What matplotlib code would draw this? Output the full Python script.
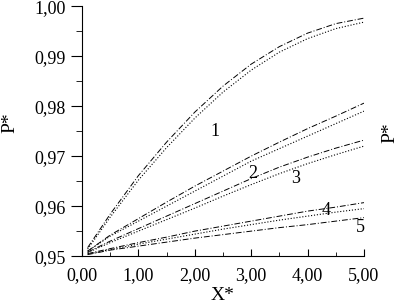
import numpy as np
import matplotlib
matplotlib.use('Agg')
import matplotlib.pyplot as plt
from matplotlib.ticker import FuncFormatter, MultipleLocator

plt.rcParams['font.family'] = ['Liberation Serif', 'DejaVu Serif']

x = [0.1, 0.5, 1.0, 1.5, 2.0, 2.5, 3.0, 3.5, 4.0, 4.5, 5.0]

# solid (calculated) and dotted (approximate) curves, 1..5
c1 = [0.9517, 0.9584, 0.9661, 0.9728, 0.9788, 0.9840, 0.9884, 0.9919, 0.9946, 0.9965, 0.9976]
c1d = [0.9514, 0.9578, 0.9652, 0.9717, 0.9776, 0.9828, 0.9872, 0.9908, 0.9935, 0.9955, 0.9968]
c2 = [0.9510, 0.9542, 0.9575, 0.9608, 0.9640, 0.9670, 0.9700, 0.9728, 0.9755, 0.9780, 0.9806]
c2d = [0.9510, 0.9540, 0.9570, 0.9600, 0.9630, 0.9660, 0.9690, 0.9715, 0.9740, 0.9765, 0.9790]
c3 = [0.9508, 0.9530, 0.9555, 0.9580, 0.9605, 0.9630, 0.9655, 0.9678, 0.9698, 0.9716, 0.9732]
c3d = [0.9507, 0.9527, 0.9550, 0.9573, 0.9596, 0.9620, 0.9643, 0.9665, 0.9685, 0.9703, 0.9720]
c4 = [0.9505, 0.9515, 0.9527, 0.9538, 0.9550, 0.9560, 0.9570, 0.9580, 0.9590, 0.9598, 0.9607]
c4d = [0.9504, 0.9513, 0.9524, 0.9534, 0.9544, 0.9554, 0.9563, 0.9572, 0.9580, 0.9588, 0.9595]
c5 = [0.9503, 0.9512, 0.9520, 0.9528, 0.9536, 0.9543, 0.9550, 0.9557, 0.9563, 0.9570, 0.9577]

labels = ['1', '2', '3', '4', '5']
label_pos = [(2.35, 0.9750), (3.02, 0.9666), (3.79, 0.9656), (4.33, 0.9592), (4.93, 0.9558)]

fig = plt.figure(figsize=(4.0, 3.06), dpi=100)
ax = fig.add_axes([0.205, 0.163, 0.705, 0.817])

for ys in [c1, c2, c3, c4, c5]:
    ax.plot(x, ys, color='black', lw=0.7, ls='-.', dashes=(6, 2, 1, 2))
for ys in [c1d, c2d, c3d, c4d]:
    ax.plot(x, ys, color='black', lw=0.8, ls=':')

for lab, (lx, ly) in zip(labels, label_pos):
    ax.text(lx, ly, lab, fontsize=13, ha='center', va='center')

ax.set_xlim(0, 5)
ax.set_ylim(0.95, 1.0)
ax.spines['top'].set_visible(False)
ax.spines['right'].set_visible(False)

fmt = FuncFormatter(lambda v, p: f"{v:.2f}".replace('.', ','))
ax.xaxis.set_major_formatter(fmt)
ax.yaxis.set_major_formatter(fmt)
ax.xaxis.set_major_locator(MultipleLocator(1))
ax.xaxis.set_minor_locator(MultipleLocator(0.5))
ax.yaxis.set_major_locator(MultipleLocator(0.01))
ax.yaxis.set_minor_locator(MultipleLocator(0.005))
ax.tick_params(axis='x', which='both', direction='in', labelsize=13, pad=8)
ax.tick_params(axis='x', which='major', length=5)
ax.tick_params(axis='x', which='minor', length=3)
ax.tick_params(axis='y', which='both', direction='out', labelsize=13)
ax.tick_params(axis='y', which='major', length=8)
ax.tick_params(axis='y', which='minor', length=4)

ax.set_xlabel('X*', fontsize=14, labelpad=2)
fig.text(0.025, 0.60, 'P*', rotation=90, fontsize=14, ha='center', va='center')
fig.text(0.975, 0.565, 'P*', rotation=90, fontsize=14, ha='center', va='center')

fig.savefig('out.png', dpi=100)
